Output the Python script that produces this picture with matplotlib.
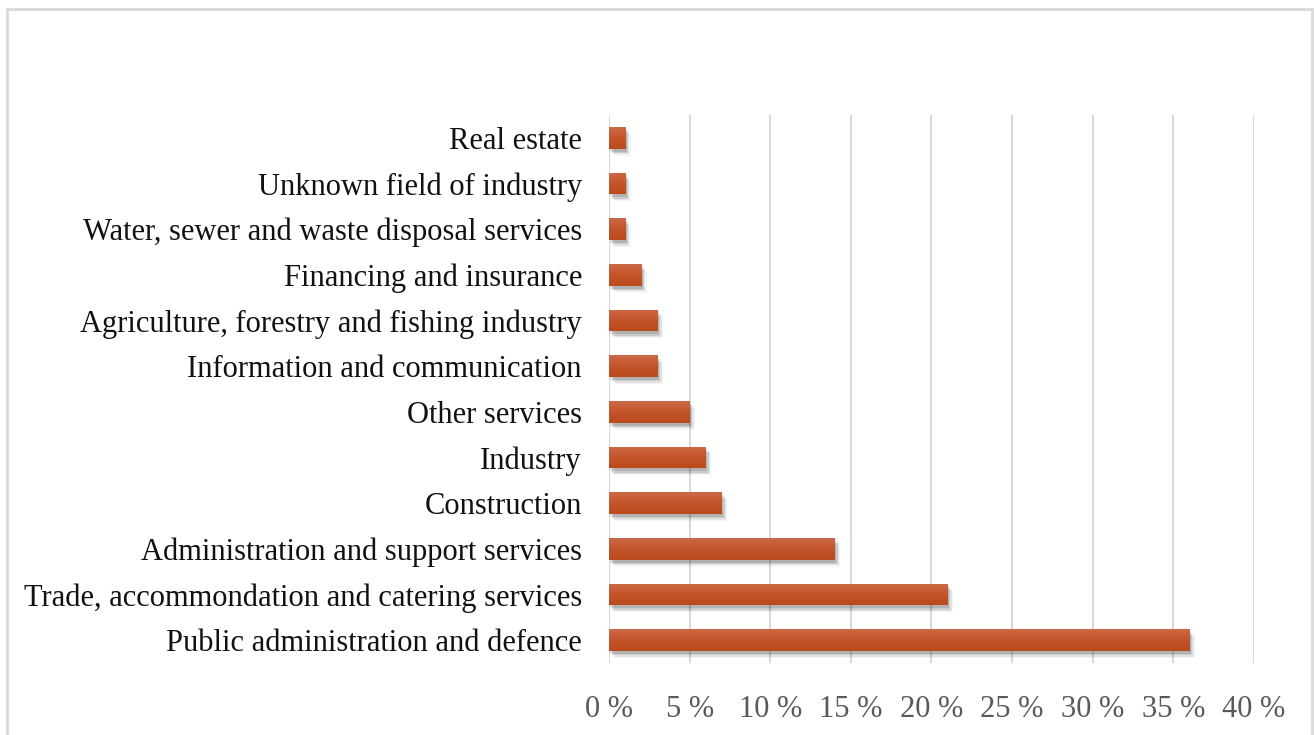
import numpy as np
import matplotlib
matplotlib.use("Agg")
import matplotlib.pyplot as plt
import matplotlib.patheffects as pe
from matplotlib.colors import LinearSegmentedColormap
from matplotlib.patches import Rectangle

plt.rcParams['font.family'] = ['Liberation Serif', 'DejaVu Serif']

# --- Dados: participação por setor (%) ---
setores = [
    "Public administration and defence",
    "Trade, accommondation and catering services",
    "Administration and support services",
    "Construction",
    "Industry",
    "Other services",
    "Information and communication",
    "Agriculture, forestry and fishing industry",
    "Financing and insurance",
    "Water, sewer and waste disposal services",
    "Unknown field of industry",
    "Real estate",
]
valores = [36, 21, 14, 7, 6, 5, 3, 3, 2, 1, 1, 1]
ticks_x = [0, 5, 10, 15, 20, 25, 30, 35, 40]

cor_barra = "#c4552a"
grad = LinearSegmentedColormap.from_list("barra", ["#b84a1c", "#c4552a", "#cb6a48"])

fig = plt.figure(figsize=(13.14, 7.35), dpi=100)
ax = fig.add_axes([0.4635, 0.098, 0.4908, 0.7455])

y = np.arange(len(setores))
sombra = [
    pe.SimplePatchShadow(offset=(4, -5), shadow_rgbFace="#000000", alpha=0.04),
    pe.SimplePatchShadow(offset=(3, -4), shadow_rgbFace="#000000", alpha=0.07),
    pe.SimplePatchShadow(offset=(2, -3), shadow_rgbFace="#000000", alpha=0.10),
    pe.SimplePatchShadow(offset=(1, -2), shadow_rgbFace="#000000", alpha=0.12),
    pe.Normal(),
]
barras = ax.barh(y, valores, height=0.48, color=cor_barra, zorder=3)
for b in barras:
    b.set_path_effects(sombra)

# --- Gradiente vertical dentro de cada barra ---
g = np.linspace(0, 1, 64).reshape(-1, 1)
for b in barras:
    x0, y0 = b.get_x(), b.get_y()
    img = ax.imshow(g, cmap=grad, aspect="auto", origin="lower",
                    extent=[x0, x0 + b.get_width(), y0, y0 + b.get_height()],
                    zorder=4)
    img.set_clip_path(Rectangle((x0, y0), b.get_width(), b.get_height(),
                                transform=ax.transData))

ax.set_xlim(0, 40)
ax.set_ylim(-0.5, len(setores) - 0.5)
ax.set_xticks(ticks_x)
ax.set_xticklabels([f"{t} %" for t in ticks_x], color="#595959", fontsize=22)
ax.set_yticks(y)
ax.set_yticklabels(setores, fontsize=22, color="#111111")
ax.tick_params(axis="x", length=0, pad=23)
ax.tick_params(axis="y", length=0, pad=19.5)

ax.grid(axis="x", color="#d9d9d9", linewidth=1.5, zorder=0)
ax.set_axisbelow(True)
for s in ax.spines.values():
    s.set_visible(False)

# --- Moldura do gráfico ---
fig.patches.append(Rectangle((7 / 1314, -0.05), 1305 / 1314, 1.05 - 9 / 735,
                             transform=fig.transFigure, fill=False,
                             edgecolor="#d9d9d9", linewidth=2))

fig.savefig("out.png", dpi=100, facecolor="white")
